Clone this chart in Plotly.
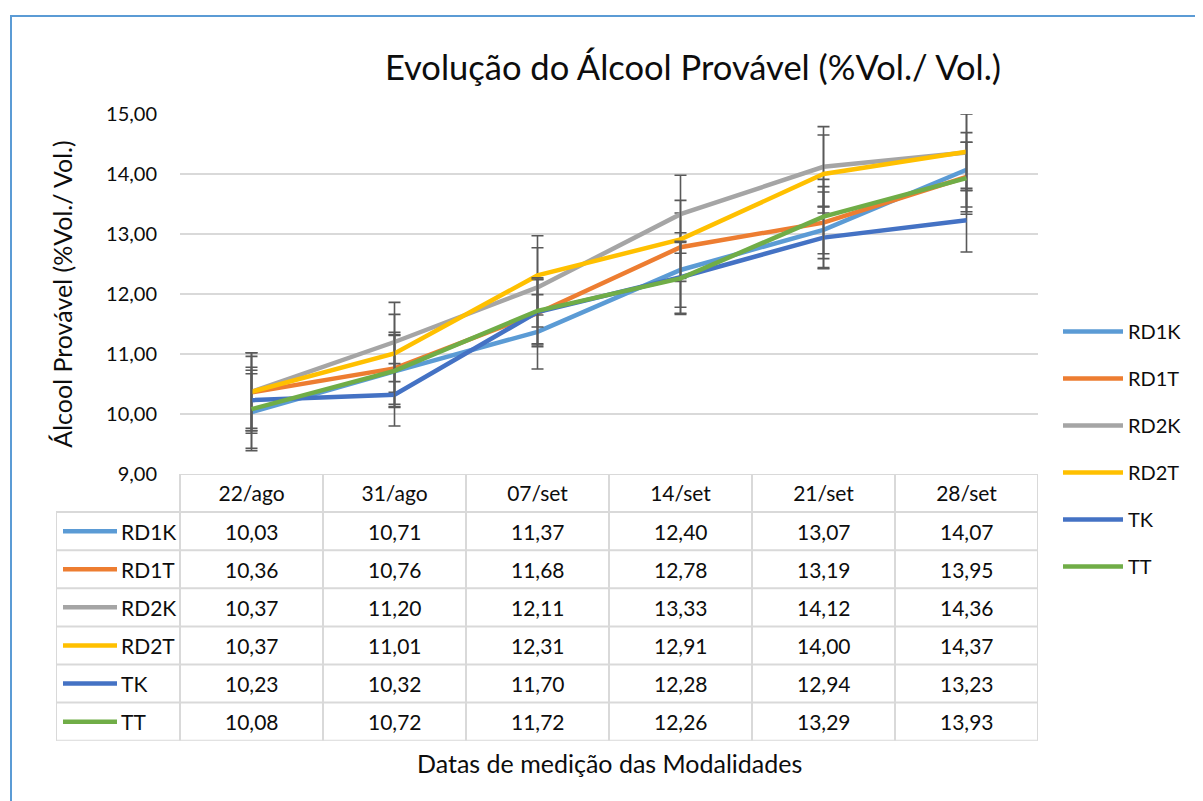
import plotly.graph_objects as go

# ---------------- data ----------------
categories = ["22/ago", "31/ago", "07/set", "14/set", "21/set", "28/set"]
series_names = ["RD1K", "RD1T", "RD2K", "RD2T", "TK", "TT"]

RD1K = [10.03, 10.71, 11.37, 12.40, 13.07, 14.07]
RD1T = [10.36, 10.76, 11.68, 12.78, 13.19, 13.95]
RD2K = [10.37, 11.20, 12.11, 13.33, 14.12, 14.36]
RD2T = [10.37, 11.01, 12.31, 12.91, 14.00, 14.37]
TK = [10.23, 10.32, 11.70, 12.28, 12.94, 13.23]
TT = [10.08, 10.72, 11.72, 12.26, 13.29, 13.93]

# estimated error bar half-widths
err_RD1K = [0.64, 0.60, 0.62, 0.62, 0.63, 0.62]
err_RD1T = [0.60, 0.60, 0.56, 0.57, 0.60, 0.58]
err_RD2K = [0.65, 0.66, 0.66, 0.65, 0.67, 0.64]
err_RD2T = [0.65, 0.65, 0.66, 0.65, 0.65, 0.64]
err_TK = [0.55, 0.52, 0.55, 0.60, 0.52, 0.53]
err_TT = [0.65, 0.60, 0.55, 0.60, 0.62, 0.60]

y_ticks = [9, 10, 11, 12, 13, 14, 15]

title_text = "Evolução do Álcool Provável (%Vol./ Vol.)"
y_title = "Álcool Provável (%Vol./ Vol.)"
x_title = "Datas de medição das Modalidades"

values = [RD1K, RD1T, RD2K, RD2T, TK, TT]
errors = [err_RD1K, err_RD1T, err_RD2K, err_RD2T, err_TK, err_TT]
colors = ["#5B9BD5", "#ED7D31", "#A5A5A5", "#FFC000", "#4472C4", "#70AD47"]

# ---------------- layout helpers (screen pixel -> paper) ----------------
OFF = 8  # page body margin
W, H = 1203 - OFF, 801 - OFF
def fx(p):
    return (p - OFF) / W
def fy(p):
    return (H - (p - OFF)) / H

FONT = "Lato, Calibri, Carlito, sans-serif"
GRID = "#D9D9D9"
TXT = "#0D0D0D"

# table geometry
cat_w = (1038 - 180) / len(categories)
label_col_units = (180 - 56) / cat_w
x2_min = -0.5 - label_col_units
def x2u(p):
    return x2_min + (p - 56) / cat_w

fig = go.Figure()

for name, vals, errs, col in zip(series_names, values, errors, colors):
    fig.add_trace(go.Scatter(
        x=categories, y=vals, name=name, mode="lines",
        line=dict(color=col, width=4.5),
        error_y=dict(type="data", array=errs, visible=True,
                     color="#595959", thickness=1.6, width=6),
        legendgroup=name, xaxis="x", yaxis="y",
    ))

n_rows = len(series_names) + 1
shapes = []
annotations = []

# table horizontal lines
shapes.append(dict(type="line", xref="x2", yref="y2", x0=-0.5, x1=len(categories) - 0.5,
                   y0=0, y1=0, line=dict(color=GRID, width=2)))
for r in range(1, n_rows + 1):
    shapes.append(dict(type="line", xref="x2", yref="y2", x0=x2_min, x1=len(categories) - 0.5,
                       y0=r, y1=r, line=dict(color=GRID, width=2)))
# table vertical lines
shapes.append(dict(type="line", xref="x2", yref="y2", x0=x2_min, x1=x2_min,
                   y0=1, y1=n_rows, line=dict(color=GRID, width=2)))
for k in range(len(categories) + 1):
    shapes.append(dict(type="line", xref="x2", yref="y2", x0=k - 0.5, x1=k - 0.5,
                       y0=0, y1=n_rows, line=dict(color=GRID, width=2)))

# table rows: swatch, label, values
for i, (name, vals, col) in enumerate(zip(series_names, values, colors)):
    yc = i + 1.5
    shapes.append(dict(type="line", xref="x2", yref="y2", x0=x2u(63), x1=x2u(117),
                       y0=yc, y1=yc, line=dict(color=col, width=4.5)))
    annotations.append(dict(text=name, x=x2u(119), y=yc, xref="x2", yref="y2",
                            xanchor="left", yanchor="middle", showarrow=False,
                            font=dict(family=FONT, size=21, color=TXT)))
    for j, v in enumerate(vals):
        annotations.append(dict(text=f"{v:.2f}".replace(".", ","), x=j, y=yc,
                                xref="x2", yref="y2", xanchor="center", yanchor="middle",
                                showarrow=False, font=dict(family=FONT, size=21, color=TXT)))

# x-axis title below table
annotations.append(dict(text=x_title, x=0.5, y=fy(763), xref="x domain", yref="paper",
                        xanchor="center", yanchor="middle", showarrow=False,
                        font=dict(family=FONT, size=25, color=TXT)))

# outer chart border (blue frame)
shapes.append(dict(type="rect", xref="paper", yref="paper", x0=fx(11), x1=1.05,
                   y0=-0.05, y1=fy(16), line=dict(color="#5B9BD5", width=2)))

fig.update_layout(
    width=W, height=H,
    margin=dict(l=0, r=0, t=0, b=0),
    paper_bgcolor="white", plot_bgcolor="white",
    separators=",.",
    font=dict(family=FONT, size=20, color=TXT),
    title=dict(text=title_text, x=fx(693), y=fy(68), xanchor="center", yanchor="middle",
               xref="paper", yref="paper",
               font=dict(family=FONT, size=34.5, color=TXT)),
    xaxis=dict(domain=[fx(180), fx(1038)], anchor="y", type="category",
               range=[-0.5, len(categories) - 0.5],
               showgrid=False, zeroline=False, showline=False, ticks="",
               ticklabelstandoff=5, tickfont=dict(family=FONT, size=21, color=TXT),
               fixedrange=True),
    yaxis=dict(domain=[fy(474), fy(114)], anchor="x", range=[9, 15],
               tickvals=y_ticks, tickformat=".2f",
               showgrid=True, gridcolor=GRID, gridwidth=2, zeroline=False, showline=False,
               ticks="", ticklabelstandoff=22,
               tickfont=dict(family=FONT, size=20, color=TXT),
               title=dict(text=y_title, standoff=26, font=dict(family=FONT, size=25, color=TXT)),
               automargin=False),
    xaxis2=dict(domain=[fx(56), fx(1038)], anchor="y2", range=[x2_min, len(categories) - 0.5],
                visible=False, fixedrange=True),
    yaxis2=dict(domain=[fy(740.7), fy(474)], anchor="x2", range=[n_rows, 0],
                visible=False, fixedrange=True),
    legend=dict(x=fx(1058), xanchor="left", y=fy(312), yanchor="top",
                font=dict(family=FONT, size=20, color=TXT),
                tracegroupgap=18, itemwidth=60, bgcolor="rgba(0,0,0,0)",
                traceorder="grouped"),
    shapes=shapes,
    annotations=annotations,
)

# invisible anchor trace so the table axes exist
fig.add_trace(go.Scatter(x=[0], y=[0.5], xaxis="x2", yaxis="y2", mode="markers",
                         marker=dict(opacity=0), showlegend=False, hoverinfo="skip"))

fig.write_html("out.html")
